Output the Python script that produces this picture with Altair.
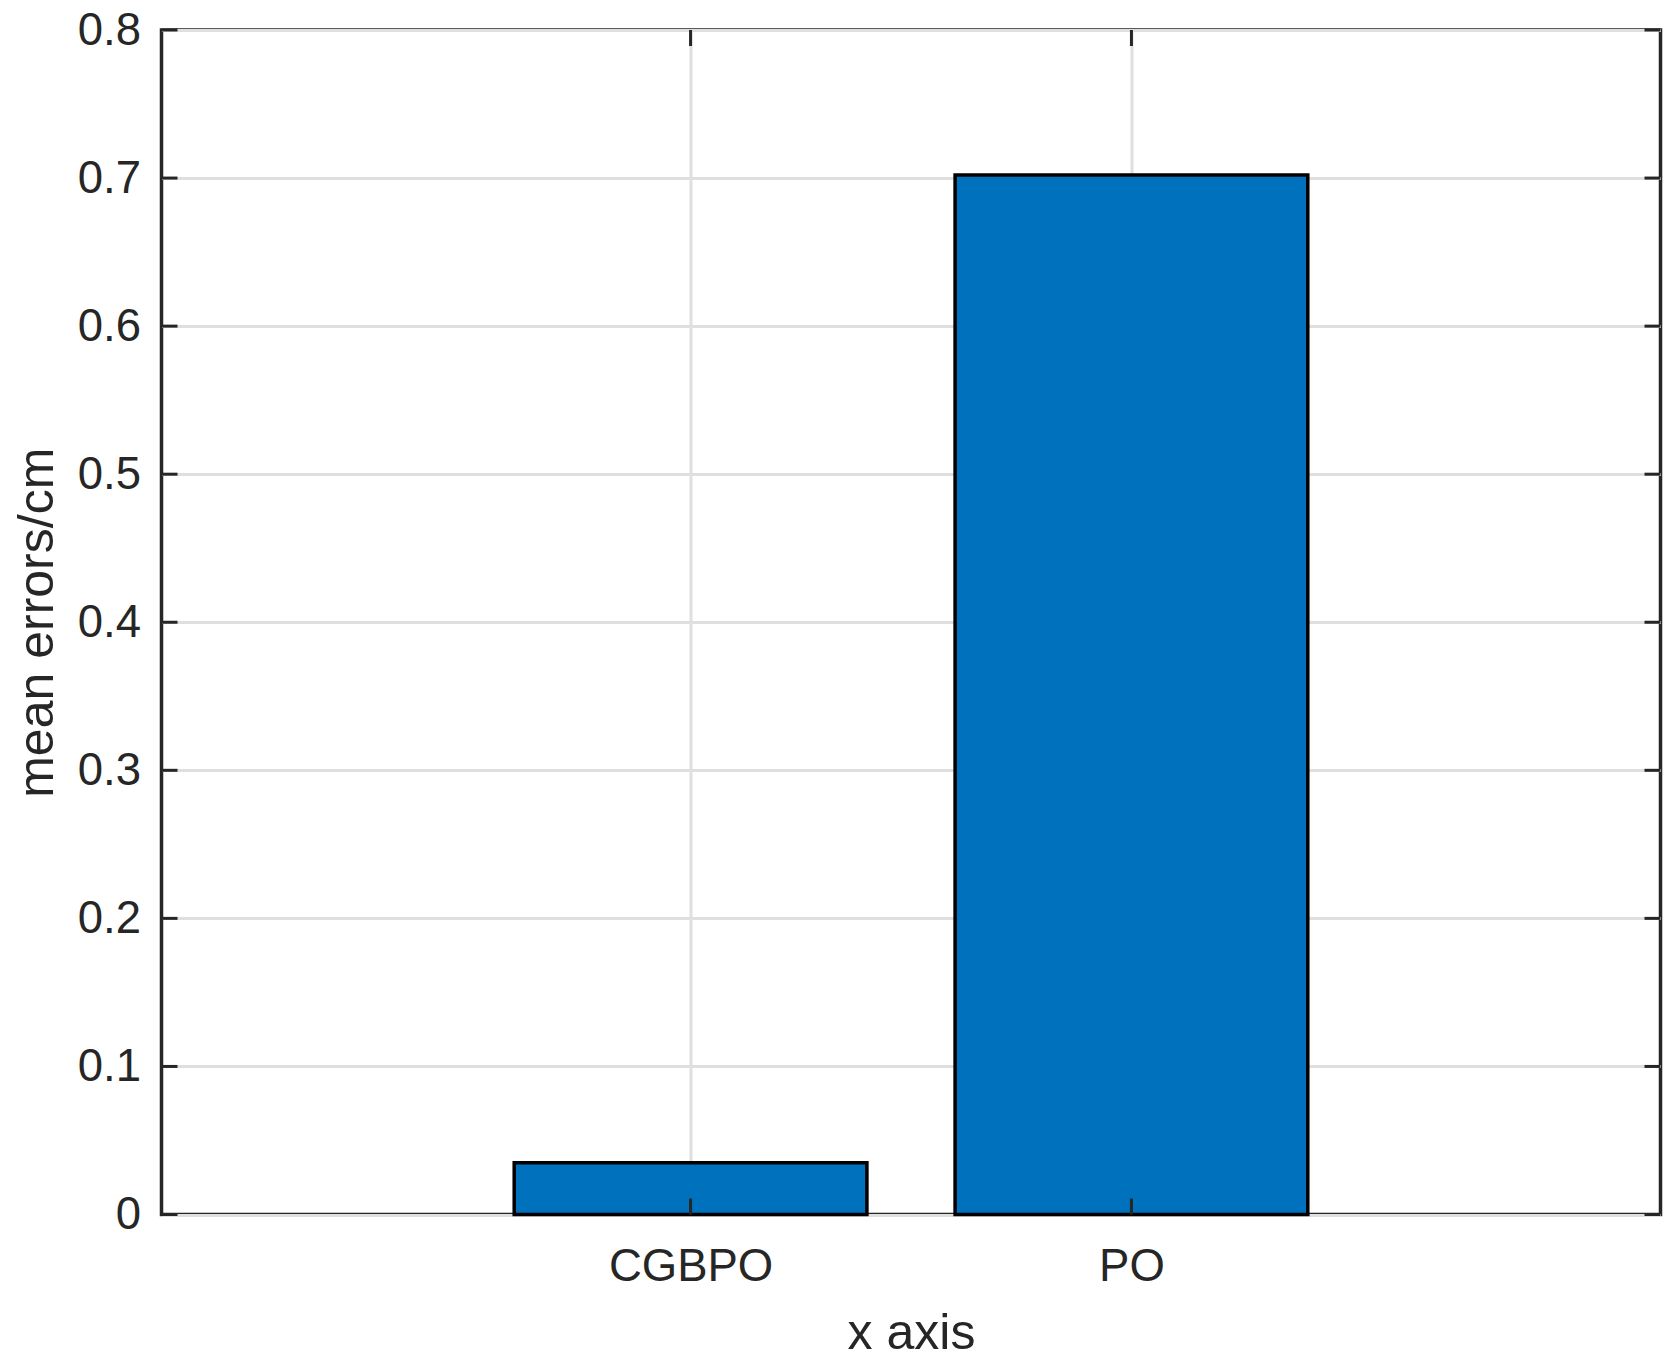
import altair as alt
import pandas as pd

categories = ["CGBPO", "PO"]
positions = [1, 2]
values = [0.035, 0.702]
y_ticks = [0, 0.1, 0.2, 0.3, 0.4, 0.5, 0.6, 0.7, 0.8]

W = 1499
H = 1184.5
FONT = "Liberation Sans"
INK = "#262626"

bars_df = pd.DataFrame({"cat": categories, "idx": positions, "value": values})
yt_df = pd.DataFrame({"value": y_ticks})
xt_df = pd.DataFrame({"x0": positions})

xscale = alt.Scale(domain=[-0.2, 3.2], nice=False, zero=False)
yscale = alt.Scale(domain=[0, 0.8], nice=False)

label_expr = "[" + ",".join("'" + c + "'" for c in categories) + "][datum.value - 1]"

xaxis = alt.Axis(values=positions, labelExpr=label_expr, title="x axis",
                 grid=True, ticks=False, tickSize=0, domain=False,
                 labelPadding=66, labelBaseline="alphabetic",
                 titleBaseline="alphabetic", titleY=134, titleX=W / 2)
yaxis = alt.Axis(values=y_ticks, format=".1~f", title="mean errors/cm",
                 grid=True, ticks=False, tickSize=0, domain=False,
                 labelPadding=21,
                 titleBaseline="alphabetic", titleX=-109.5, titleY=H / 2)

bars = alt.Chart(bars_df).transform_calculate(
    x0="datum.idx - 0.4", x1="datum.idx + 0.4"
).mark_bar(fill="#0072BD", stroke="#000000", strokeWidth=3.5).encode(
    x=alt.X("x0:Q", scale=xscale, axis=xaxis),
    x2="x1:Q",
    y=alt.Y("value:Q", scale=yscale, axis=yaxis),
    y2=alt.datum(0),
)

yt_left = alt.Chart(yt_df).mark_rule(color=INK, strokeWidth=3).encode(
    y=alt.Y("value:Q", scale=yscale, axis=yaxis), x=alt.value(0), x2=alt.value(16))
yt_right = alt.Chart(yt_df).mark_rule(color=INK, strokeWidth=3).encode(
    y=alt.Y("value:Q", scale=yscale, axis=yaxis), x=alt.value(W - 16), x2=alt.value(W))
xt_bottom = alt.Chart(xt_df).mark_rule(color=INK, strokeWidth=3).encode(
    x=alt.X("x0:Q", scale=xscale, axis=xaxis), y=alt.value(H - 16), y2=alt.value(H))
xt_top = alt.Chart(xt_df).mark_rule(color=INK, strokeWidth=3).encode(
    x=alt.X("x0:Q", scale=xscale, axis=xaxis), y=alt.value(0), y2=alt.value(16))

chart = alt.layer(bars, yt_left, yt_right, xt_bottom, xt_top).properties(
    width=W, height=H,
    background="white",
    autosize=alt.AutoSizeParams(type="none"),
    padding={"left": 153.5, "top": 22, "right": 10, "bottom": 150},
).configure_view(
    stroke=INK, strokeWidth=3.5
).configure_axis(
    labelFont=FONT, titleFont=FONT, labelFontSize=45.5, titleFontSize=50,
    labelColor=INK, titleColor=INK, titleFontWeight="normal",
    gridColor="#dfdfdf", gridWidth=3, gridOpacity=1,
)

chart.save("out.html", embed_options={"renderer": "svg", "actions": False})
